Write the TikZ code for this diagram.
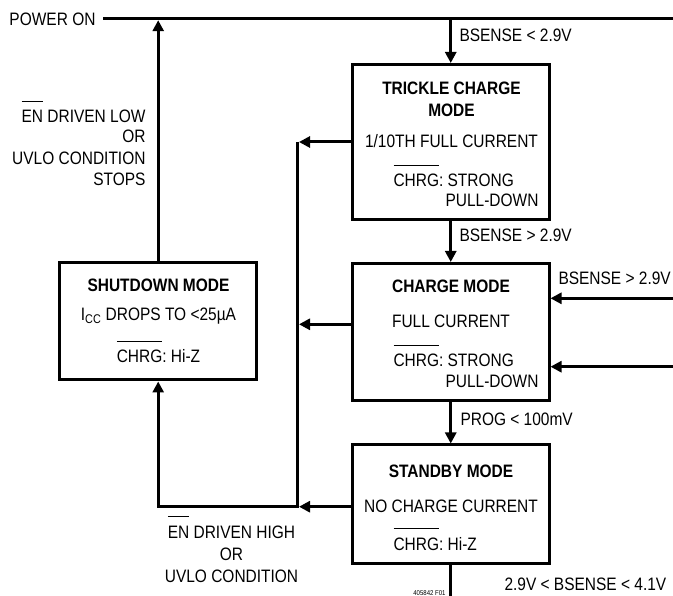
\documentclass[tikz,border=0pt]{standalone}
\usepackage{fontspec}
\setmainfont{Liberation Sans}[FakeStretch=0.86]
\usetikzlibrary{arrows.meta}
\frenchspacing
\newcommand\myovl[1]{\setbox0\hbox{#1}\rlap{\rule[21pt]{\wd0}{1.2pt}}\box0\relax}
\begin{document}
\begin{tikzpicture}[x=1pt,y=-1pt,line width=3pt,
  box/.style={draw,rectangle,inner sep=0pt,minimum width=196.5pt},
  txt/.style={inner sep=0pt,font=\fontsize{18}{21}\selectfont},
  bt/.style={inner sep=0pt,font=\fontsize{18}{21}\selectfont\bfseries},
  arr/.style={-{Triangle[length=11pt,width=11pt]}}]
\useasboundingbox (0,0) rectangle (673,596);
% boxes
\node[box,minimum height=155pt] (trickle) at (450.75,142) {};
\node[box,minimum height=137.5pt] (charge) at (450.75,332.25) {};
\node[box,minimum height=118.5pt] (standby) at (450.75,504.25) {};
\node[box,minimum width=197.3pt,minimum height=117.5pt] (shutdown) at (158.2,321.25) {};
% coordinates
\coordinate (pwr) at (103,18.7);
\coordinate (pwrR) at (673,18.7);
\coordinate (busT) at (297.5,142);
\coordinate (busM) at (297.5,324.3);
\coordinate (busB) at (297.5,506.7);
\coordinate (r1) at (673,298.3);
\coordinate (r2) at (673,366.7);
\coordinate (bot) at (450.75,600);
% connectors
\draw (pwr) -- (pwrR);
\draw[arr,shorten >=1.5pt] (shutdown.north) -- (shutdown.north |- pwr);
\draw[arr] (trickle.north |- pwr) -- (trickle.north);
\draw[arr] (trickle.south) -- (charge.north);
\draw[arr] (charge.south) -- (standby.north);
\draw (standby.south) -- (bot);
\draw[arr,shorten >=1.5pt] (trickle.west |- busT) -- (busT);
\draw[arr,shorten >=1.5pt] (charge.west |- busM) -- (busM);
\draw[arr,shorten >=1.5pt] (standby.west |- busB) -- (busB);
\draw[arr] (busT) -- (busB) -- (busB -| shutdown.south) -- (shutdown.south);
\draw[arr] (r1) -- (charge.east |- r1);
\draw[arr] (r2) -- (charge.east |- r2);
% labels
\node[txt,anchor=base east] (lpwr) at (97,26) {POWER ON};
\node[txt,anchor=base west] (l1) at (458,42) {BSENSE < 2.9V};
\node[txt,anchor=base west] (l2) at (458,242) {BSENSE > 2.9V};
\node[txt,anchor=base west] (l3) at (557,285) {BSENSE > 2.9V};
\node[txt,anchor=base west] (l4) at (459,426) {PROG < 100mV};
\node[txt,anchor=base west] (l5) at (503,590) {2.9V < BSENSE < 4.1V};
\node[inner sep=0pt,font=\fontsize{7}{8}\selectfont,anchor=base east] (fig) at (447,595.3) {405842 F01};
\node[txt,anchor=base east] (lowa) at (147,123) {\myovl{EN} DRIVEN LOW};
\node[txt,anchor=base east] (lowb) at (147,143) {OR};
\node[txt,anchor=base east] (lowc) at (147,165) {UVLO CONDITION};
\node[txt,anchor=base east] (lowd) at (147,186) {STOPS};
\node[txt,anchor=base] (higha) at (231.5,538) {\myovl{EN} DRIVEN HIGH};
\node[txt,anchor=base] (highb) at (231.5,560) {OR};
\node[txt,anchor=base] (highc) at (231.5,582) {UVLO CONDITION};
% trickle text
\node[bt,anchor=base] (t1) at (451.5,95) {TRICKLE CHARGE};
\node[bt,anchor=base] (t2) at (451.5,117) {MODE};
\node[txt,anchor=base] (t3) at (451.5,148) {1/10TH FULL CURRENT};
\node[txt,anchor=base west] (t4) at (392,187) {\myovl{CHRG}: STRONG};
\node[txt,anchor=base east] (t5) at (540,207) {PULL-DOWN};
% charge text
\node[bt,anchor=base] (c1) at (451,293) {CHARGE MODE};
\node[txt,anchor=base] (c2) at (451,328) {FULL CURRENT};
\node[txt,anchor=base west] (c3) at (392,367) {\myovl{CHRG}: STRONG};
\node[txt,anchor=base east] (c4) at (540,388) {PULL-DOWN};
% standby text
\node[bt,anchor=base] (s1) at (451,477) {STANDBY MODE};
\node[txt,anchor=base] (s2) at (451,512) {NO CHARGE CURRENT};
\node[txt,anchor=base west] (s3) at (392,550) {\myovl{CHRG}: Hi-Z};
% shutdown text
\node[bt,anchor=base] (d1) at (158.5,292) {SHUTDOWN MODE};
\node[txt,anchor=base] (d2) at (158.5,321) {I\textsubscript{CC} DROPS TO <25µA};
\node[txt,anchor=base] (d3) at (158.5,363) {\myovl{CHRG}: Hi-Z};
\end{tikzpicture}
\end{document}
